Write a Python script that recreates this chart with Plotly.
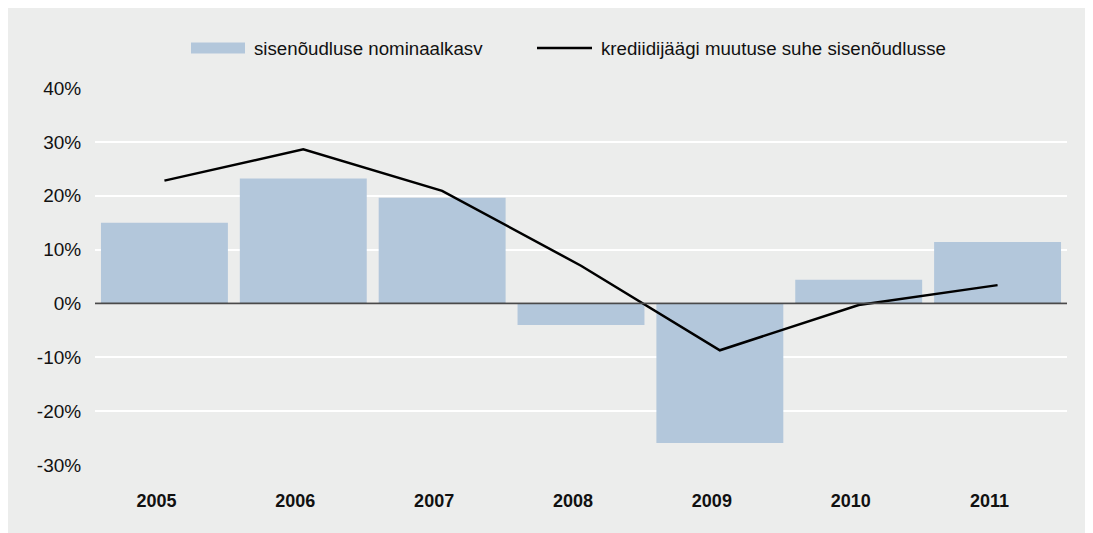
import plotly.graph_objects as go

years = ["2005", "2006", "2007", "2008", "2009", "2010", "2011"]
nominal_growth = [15.0, 23.2, 19.6, -4.0, -25.9, 4.4, 11.4]
credit_ratio = [22.8, 28.6, 20.9, 7.0, -8.7, -0.3, 3.4]
tick_vals = [-30, -20, -10, 0, 10, 20, 30, 40]
tick_text = ["-30%", "-20%", "-10%", "0%", "10%", "20%", "30%", "40%"]
legend_names = ["sisenõudluse nominaalkasv", "krediidijäägi muutuse suhe sisenõudlusse"]

W, H = 1085, 525
L, R, T, B = 87, 26, 80, 68
pw, ph = W - L - R, H - T - B
FONT = "Liberation Sans, Arial, Helvetica, sans-serif"
BAR_C = "#B3C7DB"
GREY = "#ECEDEC"


def px_x(px):
    return (px - L) / pw


def px_y(py):
    return (T + ph - py) / ph


fig = go.Figure()
fig.add_trace(go.Bar(
    x=years, y=nominal_growth, name=legend_names[0],
    marker=dict(color=BAR_C, line=dict(width=0)), showlegend=False,
))
fig.add_trace(go.Scatter(
    x=years, y=credit_ratio, name=legend_names[1],
    mode="lines", line=dict(color="#000000", width=2.5), showlegend=False,
))

# zero line
fig.add_shape(type="line", xref="paper", yref="y", x0=0, x1=1, y0=0, y1=0,
              line=dict(color="#4a4a4a", width=1.8))

# custom legend
ly = 40
fig.add_shape(type="rect", xref="paper", yref="paper",
              x0=px_x(183), x1=px_x(237), y0=px_y(ly + 5.5), y1=px_y(ly - 5.5),
              fillcolor=BAR_C, line=dict(width=0))
fig.add_annotation(xref="paper", yref="paper", x=px_x(244), y=px_y(ly),
                   xanchor="left", yanchor="middle", showarrow=False,
                   text=legend_names[0], font=dict(size=18.7, color="#111111", family=FONT))
fig.add_shape(type="line", xref="paper", yref="paper",
              x0=px_x(529), x1=px_x(584), y0=px_y(ly), y1=px_y(ly),
              line=dict(color="#000000", width=2.5))
fig.add_annotation(xref="paper", yref="paper", x=px_x(591), y=px_y(ly),
                   xanchor="left", yanchor="middle", showarrow=False,
                   text=legend_names[1], font=dict(size=18.7, color="#111111", family=FONT))

fig.update_layout(
    width=W, height=H,
    margin=dict(l=L, r=R, t=T, b=B),
    paper_bgcolor=GREY, plot_bgcolor=GREY,
    font=dict(family=FONT, size=18, color="#111111"),
    bargap=0.086,
    showlegend=False,
    xaxis=dict(showgrid=False, ticks="outside", ticklen=19, tickcolor="rgba(0,0,0,0)",
               ticklabelshift=-8,
               tickfont=dict(size=18, color="#111111", family=FONT, weight="bold"),
               showline=False, zeroline=False),
    yaxis=dict(range=[-30, 40], tickvals=tick_vals, ticktext=tick_text,
               showgrid=True, gridcolor="white", gridwidth=1.5, zeroline=False,
               ticks="outside", ticklen=9, tickcolor="rgba(0,0,0,0)",
               tickfont=dict(size=19, color="#111111", family=FONT), showline=False),
)

fig.write_html("out.html", default_width=f"{W}px", default_height=f"{H}px")
